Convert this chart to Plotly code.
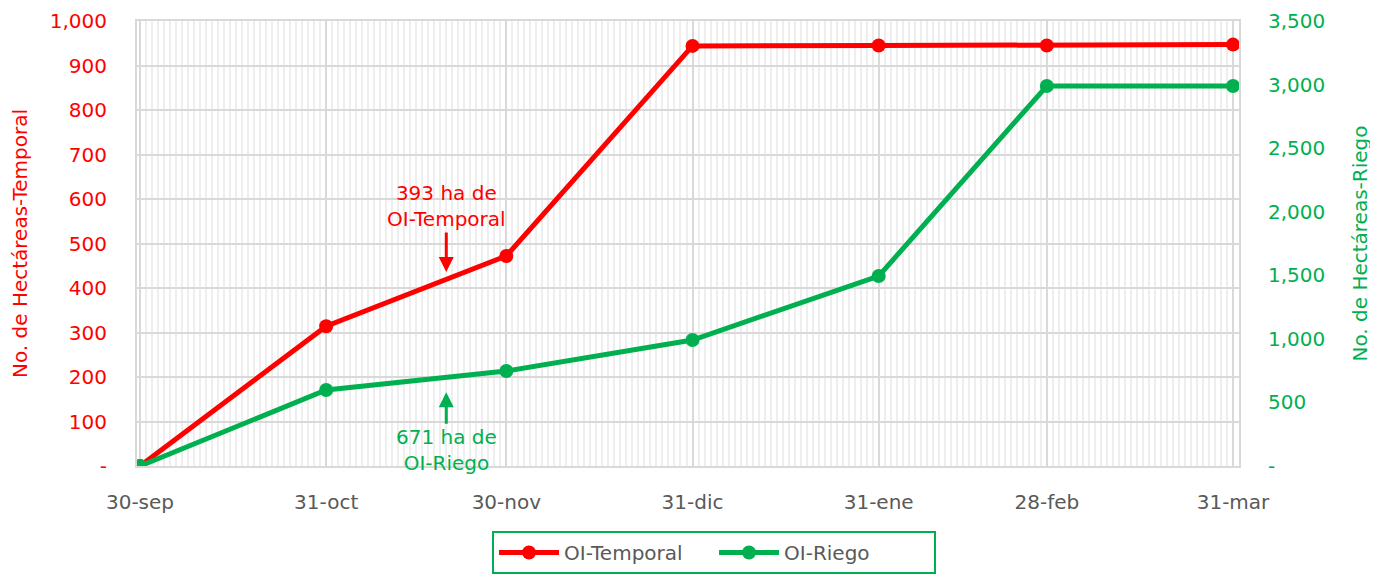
import plotly.graph_objects as go

dates = ["2018-09-30", "2018-10-31", "2018-11-30", "2018-12-31", "2019-01-31", "2019-02-28", "2019-03-31"]
tick_labels = ["30-sep", "31-oct", "30-nov", "31-dic", "31-ene", "28-feb", "31-mar"]
temporal = [0, 314, 472, 944, 945, 945, 947]
riego = [0, 598, 747, 991, 1494, 2989, 2989]

left_ticks = [0, 100, 200, 300, 400, 500, 600, 700, 800, 900, 1000]
left_text = ["-", "100", "200", "300", "400", "500", "600", "700", "800", "900", "1,000"]
right_ticks = [0, 500, 1000, 1500, 2000, 2500, 3000, 3500]
right_text = ["-", "500", "1,000", "1,500", "2,000", "2,500", "3,000", "3,500"]

RED = "#FF0000"
GREEN = "#00B050"
GRAY = "#595959"
FONT = "DejaVu Sans"
FS = 20

fig = go.Figure()
fig.add_trace(go.Scatter(x=dates, y=temporal, name="OI-Temporal", mode="lines+markers",
                         line=dict(color=RED, width=5), marker=dict(size=14, color=RED)))
fig.add_trace(go.Scatter(x=dates, y=riego, name="OI-Riego", mode="lines+markers", yaxis="y2",
                         line=dict(color=GREEN, width=5), marker=dict(size=14, color=GREEN)))

fig.add_annotation(x="2018-11-20", y=436, xref="x", yref="y", ax=0, ay=-66,
                   text="393 ha de<br>OI-Temporal", showarrow=True, arrowhead=2, arrowsize=1,
                   arrowwidth=3, arrowcolor=RED, font=dict(family=FONT, size=FS, color=RED))
fig.add_annotation(x="2018-11-20", y=166, xref="x", yref="y", ax=0, ay=58,
                   text="671 ha de<br>OI-Riego", showarrow=True, arrowhead=2, arrowsize=1,
                   arrowwidth=3, arrowcolor=GREEN, font=dict(family=FONT, size=FS, color=GREEN))

fig.update_layout(
    width=1370, height=571,
    margin=dict(l=129, r=139, t=13, b=113),
    paper_bgcolor="white", plot_bgcolor="white",
    font=dict(family=FONT, size=FS, color=GRAY),
    xaxis=dict(
        type="date", range=["2018-09-29 12:00", "2019-04-01"],
        tickvals=dates, ticktext=tick_labels,
        tickfont=dict(size=FS, color=GRAY),
        ticks="outside", ticklen=17, tickcolor="rgba(0,0,0,0)",
        showgrid=True, gridcolor="#D9D9D9", gridwidth=2,
        minor=dict(dtick=86400000, showgrid=True, gridcolor="#EEEEEE", gridwidth=2),
        showline=True, linecolor="#D9D9D9", linewidth=2, mirror=True,
        zeroline=False, automargin=False,
    ),
    yaxis=dict(
        range=[0, 1000], tickvals=left_ticks, ticktext=left_text,
        tickfont=dict(size=FS, color=RED),
        ticks="outside", ticklen=24, tickcolor="rgba(0,0,0,0)",
        showgrid=True, gridcolor="#D9D9D9", gridwidth=2, zeroline=False,
        title=dict(text="No. de Hectáreas-Temporal", font=dict(size=FS, color=RED), standoff=24),
        showline=True, linecolor="#D9D9D9", linewidth=2, mirror=True,
        automargin=False,
    ),
    yaxis2=dict(
        range=[0, 3500], tickvals=right_ticks, ticktext=right_text,
        overlaying="y", side="right",
        tickfont=dict(size=FS, color=GREEN),
        ticks="outside", ticklen=24, tickcolor="rgba(0,0,0,0)",
        showgrid=False, zeroline=False,
        title=dict(text="No. de Hectáreas-Riego", font=dict(size=FS, color=GREEN), standoff=28),
        automargin=False,
    ),
    legend=dict(
        orientation="h", xref="container", yref="container",
        x=0.3533, xanchor="left", y=0.0840, yanchor="top",
        bordercolor=GREEN, borderwidth=2, font=dict(size=FS, color=GRAY),
        entrywidth=145, itemwidth=60,
    ),
    showlegend=True,
)

fig.write_html("out.html")
